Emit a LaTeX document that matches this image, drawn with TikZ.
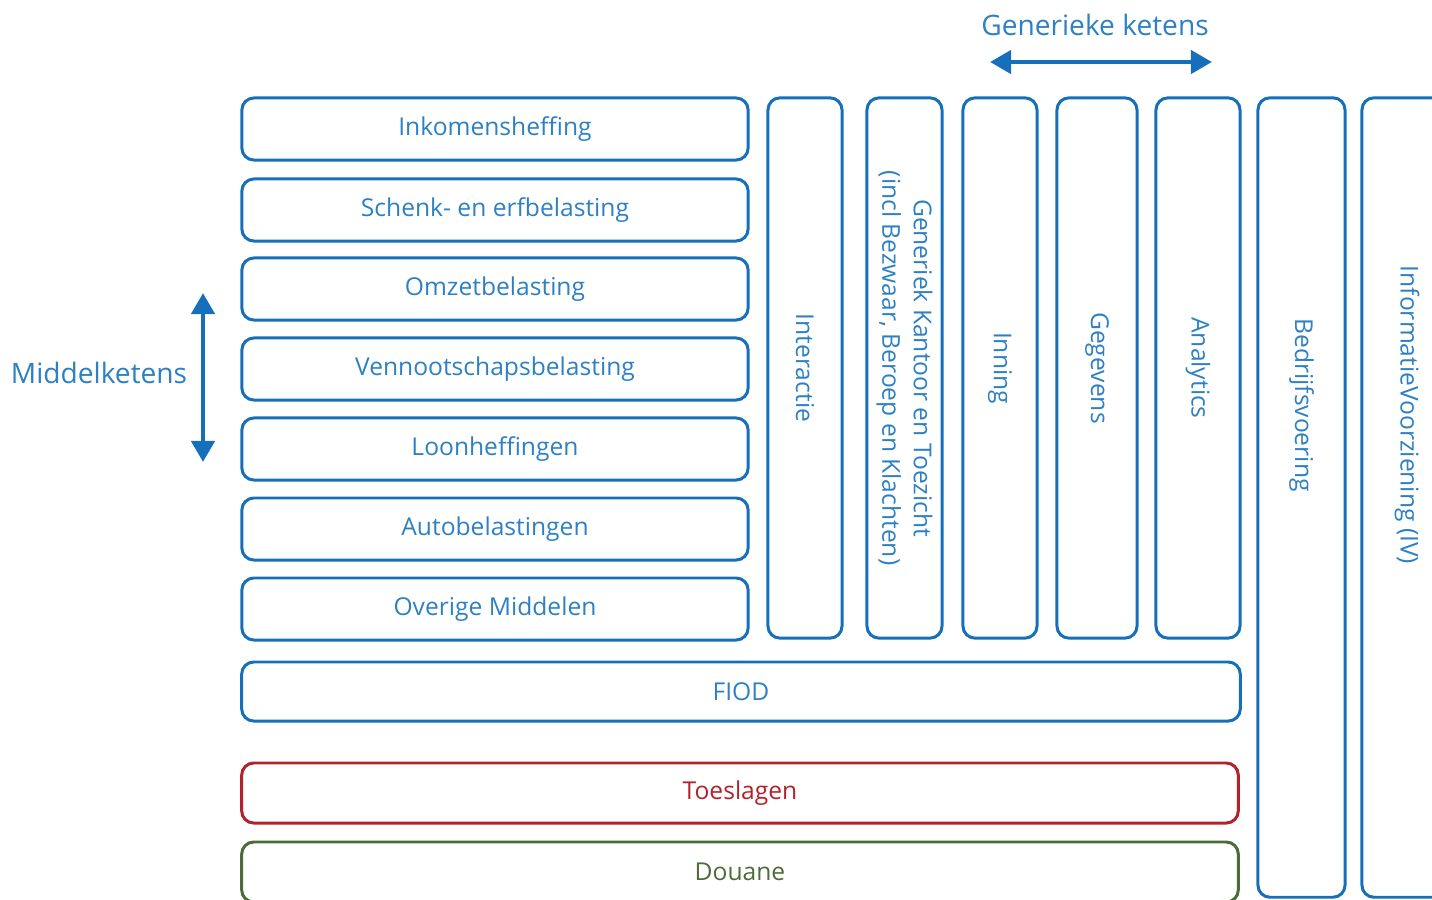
\documentclass[tikz,border=0pt]{standalone}
\usepackage{fontspec}
\setmainfont{Open Sans}
\usetikzlibrary{arrows.meta}
\definecolor{rijkblue}{RGB}{21,111,186}
\definecolor{rijktext}{RGB}{45,128,196}
\definecolor{toeslagred}{RGB}{178,34,44}
\definecolor{douanegreen}{RGB}{78,108,58}
\newcommand{\widthmiddel}{5.06cm}
\newcommand{\heightbar}{0.62cm}
\newcommand{\heightketen}{5.40cm}
\newcommand{\heightlang}{7.99cm}
\tikzset{
    common/.style={draw=rijkblue, text=rijktext, rectangle, rounded corners=0.12cm,
        line width=0.85pt, inner sep=0pt, font=\fontsize{7}{9}\selectfont},
    middel/.style={common, minimum width=\widthmiddel, minimum height=\heightbar},
    keten/.style={common, rotate=-90, align=center, minimum width=\heightketen, minimum height=#1},
    lang/.style={common, rotate=-90, minimum width=\heightlang, minimum height=#1},
    balk/.style={common, minimum width=#1, minimum height=0.60cm},
    staand/.style={text=rijktext, rotate=-90, font=\fontsize{7}{9}\selectfont},
    kop/.style={text=rijktext, font=\fontsize{8}{10}\selectfont},
    pijl/.style={draw=rijkblue, line width=1.4pt, {Triangle[length=6pt,width=6.5pt]}-{Triangle[length=6pt,width=6.5pt]}}
}

\begin{document}
\begin{tikzpicture}[x=0.01cm, y=-0.01cm]
    \clip (0,0) rectangle (1432,899);

    % middelketens
    \node[middel] (inkomen) at (495,129) {Inkomensheffing};
    \node[middel] (schenk) at (495,210) {Schenk- en erfbelasting};
    \node[middel] (omzet) at (495,289) {Omzetbelasting};
    \node[middel] (vpb) at (495,369) {Vennootschapsbelasting};
    \node[middel] (loon) at (495,449) {Loonheffingen};
    \node[middel] (auto) at (495,529) {Autobelastingen};
    \node[middel] (overig) at (495,609) {Overige Middelen};

    % generieke ketens
    \node[keten=0.74cm] (interactie) at (805,368) {Interactie};
    \node[keten=0.75cm] (kantoor) at (904.5,368) {Generiek Kantoor en Toezicht\\(incl Bezwaar, Beroep en Klachten)};
    \node[keten=0.74cm] (inning) at (1000,368) {Inning};
    \node[keten=0.80cm] (gegevens) at (1097,368) {Gegevens};
    \node[keten=0.84cm] (analytics) at (1198,368) {Analytics};

    \node[lang=0.87cm] (bedrijf) at (1301.5,497.5) {};
    \node[staand] (bedrijf-txt) at (1301.5,405) {Bedrijfsvoering};
    \node[lang=0.88cm] (iv) at (1406,497.5) {};
    \node[staand] (iv-txt) at (1407,415) {InformatieVoorziening (IV)};

    % balken onder
    \node[balk=9.98cm, minimum height=0.59cm] (fiod) at (741,691.5) {FIOD};
    \node[balk=9.96cm, draw=toeslagred, text=toeslagred] (toeslagen) at (740,793) {Toeslagen};
    \node[balk=9.96cm, draw=douanegreen, text=douanegreen] (douane) at (740,872) {Douane};

    % pijlen
    \node[kop] (generiek-kop) at (1095,25) {Generieke ketens};
    \coordinate (generiek-l) at (990,62);
    \coordinate (generiek-r) at (1212,62);
    \draw[pijl] (generiek-l) -- (generiek-r);

    \node[kop] (middel-kop) at (99,373) {Middelketens};
    \coordinate (middel-t) at (203,293);
    \coordinate (middel-b) at (203,462);
    \draw[pijl] (middel-t) -- (middel-b);
\end{tikzpicture}
\end{document}
